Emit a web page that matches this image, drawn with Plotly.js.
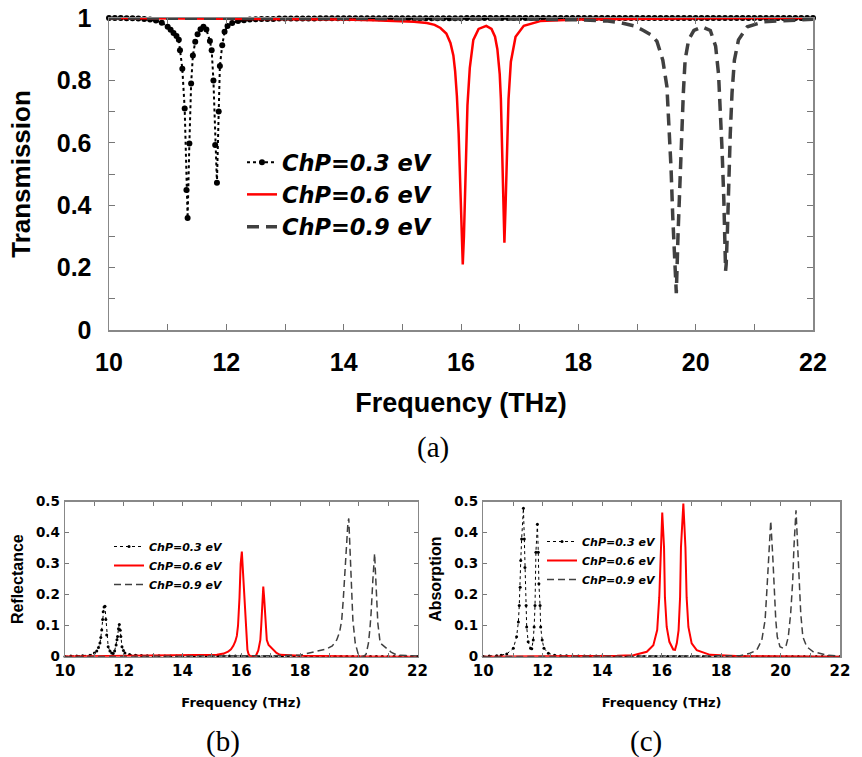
<!DOCTYPE html>
<html>
<head>
<meta charset="utf-8">
<script src="https://cdn.plot.ly/plotly-3.0.1.min.js"></script>
<style>html,body{margin:0;padding:0;background:#fff;}#chart{width:862px;height:757px;}</style>
</head>
<body>
<div id="chart"></div>
<script>
// ---------- Legend labels ----------
const seriesNames = ['ChP=0.3 eV', 'ChP=0.6 eV', 'ChP=0.9 eV'];
const panelLabels = ['(a)', '(b)', '(c)'];

// ---------- (a) Transmission ----------
const freq03T_head = [10,10.1,10.2,10.3,10.4,10.5,10.6,10.7,10.8,10.9,11,11.05,11.1,11.15,11.19,11.21,11.25,11.29,11.32,11.34,11.37,11.4,11.43,11.47,11.51,11.56,11.61,11.66,11.72,11.75,11.78,11.81,11.84,11.87,11.89,11.93,11.97,12.02,12.1,12.2,12.3,12.4,12.5];
const trans03_head = [1,1,1,0.999,0.999,0.998,0.997,0.995,0.992,0.985,0.972,0.962,0.952,0.942,0.93,0.897,0.837,0.71,0.449,0.359,0.598,0.79,0.88,0.924,0.948,0.964,0.972,0.963,0.926,0.897,0.8,0.593,0.472,0.7,0.846,0.913,0.956,0.974,0.984,0.99,0.993,0.995,0.996];
const freq03T_tail = [12.6,12.7,12.8,12.9,13,13.1,13.2,13.3,13.4,13.5,13.6,13.7,13.8,13.9,14,14.1,14.2,14.3,14.4,14.5,14.6,14.7,14.8,14.9,15,15.1,15.2,15.3,15.4,15.5,15.6,15.7,15.8,15.9,16,16.1,16.2,16.3,16.4,16.5,16.6,16.7,16.8,16.9,17,17.1,17.2,17.3,17.4,17.5,17.6,17.7,17.8,17.9,18,18.1,18.2,18.3,18.4,18.5,18.6,18.7,18.8,18.9,19,19.1,19.2,19.3,19.4,19.5,19.6,19.7,19.8,19.9,20,20.1,20.2,20.3,20.4,20.5,20.6,20.7,20.8,20.9,21,21.1,21.2,21.3,21.4,21.5,21.6,21.7,21.8,21.9,22];
const trans03_tail = [0.997,0.997,0.997,0.998,0.998,0.998,0.998,0.998,0.998,0.998,0.999,0.999,0.999,0.999,0.999,0.999,0.999,0.999,0.999,0.999,0.999,0.999,0.999,0.999,0.999,0.999,0.999,0.999,0.999,0.999,0.999,0.999,0.999,0.999,0.999,1,1,1,1,1,1,1,1,1,1,1,1,1,1,1,1,1,1,1,1,1,1,1,1,1,1,1,1,1,1,1,1,1,1,1,1,1,1,1,1,1,1,1,1,1,1,1,1,1,1,1,1,1,1,1,1,1,1,1,1];

const freq06T = [10,11,12,13,14,14.5,15,15.2,15.42,15.55,15.65,15.75,15.82,15.87,15.9,15.93,15.96,15.98,16,16.02,16.03,16.05,16.07,16.09,16.11,16.15,16.21,16.3,16.43,16.52,16.58,16.62,16.66,16.68,16.7,16.72,16.74,16.76,16.78,16.81,16.85,16.93,17.07,17.35,18,19,20,21,22];
const trans06 = [1,0.999,0.998,0.997,0.995,0.993,0.99,0.988,0.984,0.978,0.968,0.95,0.92,0.88,0.83,0.75,0.63,0.52,0.41,0.26,0.21,0.3,0.42,0.6,0.72,0.84,0.93,0.965,0.975,0.965,0.94,0.9,0.82,0.74,0.6,0.42,0.28,0.4,0.58,0.74,0.86,0.94,0.975,0.99,0.995,0.998,0.999,1,1];

const freq09T = [10,14,17,18.03,18.5,18.72,18.95,19.11,19.25,19.34,19.44,19.51,19.55,19.58,19.61,19.64,19.67,19.7,19.73,19.76,19.79,19.82,19.88,19.97,20.11,20.25,20.34,20.39,20.42,20.45,20.48,20.5,20.51,20.52,20.54,20.56,20.59,20.62,20.66,20.73,20.88,21.16,21.73,22];
const trans09 = [1,0.999,0.997,0.994,0.99,0.985,0.975,0.96,0.945,0.925,0.865,0.78,0.65,0.52,0.36,0.25,0.118,0.31,0.47,0.63,0.76,0.865,0.93,0.96,0.972,0.96,0.91,0.82,0.705,0.577,0.417,0.29,0.19,0.21,0.31,0.47,0.63,0.76,0.865,0.93,0.972,0.988,0.994,0.996];

// ---------- shared low-value tail grid for (b),(c) black series ----------
const freqLowTail = [12.6,12.8,13,13.2,13.4,13.6,13.8,14,14.2,14.4,14.6,14.8,15,15.2,15.4,15.6,15.8,16,16.2,16.4,16.6,16.8,17,17.2,17.4,17.6,17.8,18,18.2,18.4,18.6,18.8,19,19.2,19.4,19.6,19.8,20,20.2,20.4,20.6,20.8,21,21.2,21.4,21.6,21.8,22];

// ---------- (b) Reflectance ----------
const freq03R_head = [10,10.2,10.4,10.6,10.85,11,11.08,11.14,11.19,11.22,11.25,11.28,11.3,11.33,11.36,11.39,11.42,11.47,11.53,11.59,11.64,11.69,11.74,11.77,11.79,11.82,11.85,11.88,11.9,11.94,11.99,12.04,12.2,12.4];
const refl03_head = [0.001,0.002,0.002,0.003,0.005,0.012,0.018,0.03,0.044,0.062,0.086,0.12,0.145,0.16,0.163,0.12,0.07,0.032,0.018,0.012,0.01,0.018,0.038,0.055,0.065,0.09,0.104,0.085,0.065,0.032,0.02,0.012,0.007,0.005];
const refl03_tail = [0.004,0.003,0.003,0.003,0.002,0.002,0.002,0.002,0.002,0.002,0.002,0.002,0.002,0.002,0.002,0.002,0.002,0.002,0.001,0.001,0.001,0.001,0.001,0.001,0.001,0.001,0.001,0.001,0.001,0.001,0.001,0.001,0.001,0.001,0.001,0.001,0.001,0.001,0.001,0.001,0.001,0.001,0.001,0.001,0.001,0.001,0.001,0.001];

const freq06R = [10,12,14,15,15.17,15.4,15.55,15.65,15.73,15.8,15.85,15.89,15.92,15.94,15.96,15.98,16.02,16.06,16.1,16.13,16.16,16.19,16.21,16.25,16.3,16.4,16.5,16.58,16.62,16.65,16.68,16.7,16.72,16.75,16.78,16.81,16.84,16.87,16.93,17.04,17.2,17.32,18,20,22];
const refl06 = [0.001,0.002,0.003,0.005,0.006,0.01,0.016,0.024,0.035,0.05,0.067,0.1,0.14,0.19,0.247,0.3,0.339,0.28,0.194,0.14,0.097,0.05,0.022,0.008,0.002,0.001,0.003,0.02,0.04,0.054,0.1,0.14,0.19,0.226,0.19,0.14,0.09,0.054,0.038,0.027,0.012,0.006,0.003,0.001,0];

const freq09R = [10,14,17,18,18.46,18.91,19.1,19.25,19.35,19.42,19.47,19.51,19.55,19.59,19.63,19.66,19.69,19.73,19.8,19.88,19.99,20.08,20.18,20.25,20.33,20.38,20.42,20.48,20.51,20.54,20.57,20.59,20.65,20.73,20.85,20.96,21.1,21.3,22];
const refl09 = [0,0.001,0.003,0.005,0.015,0.025,0.035,0.054,0.08,0.118,0.18,0.247,0.32,0.39,0.43,0.446,0.38,0.247,0.118,0.044,0.005,0.001,0.002,0.008,0.044,0.09,0.14,0.247,0.3,0.333,0.27,0.215,0.108,0.044,0.034,0.027,0.015,0.005,0.002];

// ---------- (c) Absorption ----------
const freq03A_head = [10,10.2,10.45,10.6,10.79,11.01,11.12,11.18,11.21,11.24,11.26,11.29,11.35,11.38,11.4,11.44,11.46,11.51,11.59,11.63,11.68,11.71,11.74,11.77,11.82,11.85,11.87,11.91,11.93,11.98,12.04,12.19,12.4];
const abs03_head = [0.001,0.002,0.003,0.005,0.009,0.027,0.064,0.112,0.165,0.224,0.31,0.38,0.479,0.38,0.288,0.165,0.096,0.048,0.027,0.026,0.054,0.096,0.165,0.337,0.427,0.337,0.235,0.165,0.096,0.054,0.027,0.011,0.005];
const abs03_tail = [0.003,0.003,0.002,0.002,0.002,0.002,0.002,0.002,0.001,0.001,0.001,0.001,0.001,0.001,0.001,0.001,0.001,0.001,0.001,0.001,0.001,0.001,0.001,0.001,0.001,0.001,0.001,0.001,0.001,0.001,0.001,0.001,0.001,0.001,0.001,0.001,0.001,0.001,0.001,0.001,0.001,0.001,0.001,0.001,0.001,0.001,0.001,0.001];

const freq06A = [10,13,14.5,15.05,15.5,15.72,15.85,15.92,15.97,16.02,16.08,16.11,16.17,16.26,16.39,16.45,16.51,16.57,16.62,16.65,16.73,16.8,16.84,16.9,17.01,17.18,17.63,18.5,22];
const abs06 = [0,0.001,0.003,0.005,0.016,0.037,0.086,0.192,0.353,0.465,0.353,0.192,0.096,0.048,0.023,0.022,0.043,0.086,0.192,0.353,0.494,0.353,0.192,0.096,0.043,0.021,0.006,0.002,0];

const freq09A = [10,16,18,18.64,18.97,19.2,19.37,19.48,19.54,19.59,19.67,19.74,19.78,19.84,19.89,19.98,20.09,20.19,20.26,20.34,20.41,20.45,20.52,20.58,20.62,20.68,20.75,20.88,21.1,21.55,22];
const abs09 = [0,0.001,0.002,0.003,0.011,0.021,0.054,0.118,0.214,0.32,0.438,0.32,0.214,0.118,0.064,0.032,0.027,0.037,0.064,0.139,0.246,0.353,0.472,0.353,0.246,0.139,0.064,0.032,0.016,0.005,0.002];

// ---------- build traces ----------
const W = 862, H = 757;
const RED = '#ff0000', GRAY = '#404040';

const traces = [
  {x:freq03T_head.concat(freq03T_tail), y:trans03_head.concat(trans03_tail), type:'scatter', mode:'lines+markers', name:seriesNames[0],
    xaxis:'x', yaxis:'y', legend:'legend', line:{color:'#000', width:2, dash:'dot'}, marker:{color:'#000', size:6}, cliponaxis:false},
  {x:freq06T, y:trans06, type:'scatter', mode:'lines', name:seriesNames[1], xaxis:'x', yaxis:'y', legend:'legend',
    line:{color:RED, width:2.5}},
  {x:freq09T, y:trans09, type:'scatter', mode:'lines', name:seriesNames[2], xaxis:'x', yaxis:'y', legend:'legend',
    line:{color:GRAY, width:3.5, dash:'12px,7px'}},

  {x:freq03R_head.concat(freqLowTail), y:refl03_head.concat(refl03_tail), type:'scatter', mode:'lines+markers', name:seriesNames[0],
    xaxis:'x2', yaxis:'y2', legend:'legend2', line:{color:'#000', width:1, dash:'dot'}, marker:{color:'#000', size:3}, cliponaxis:false},
  {x:freq06R, y:refl06, type:'scatter', mode:'lines', name:seriesNames[1], xaxis:'x2', yaxis:'y2', legend:'legend2',
    line:{color:RED, width:2}},
  {x:freq09R, y:refl09, type:'scatter', mode:'lines', name:seriesNames[2], xaxis:'x2', yaxis:'y2', legend:'legend2',
    line:{color:GRAY, width:1.5, dash:'7px,4px'}},

  {x:freq03A_head.concat(freqLowTail), y:abs03_head.concat(abs03_tail), type:'scatter', mode:'lines+markers', name:seriesNames[0],
    xaxis:'x3', yaxis:'y3', legend:'legend3', line:{color:'#000', width:1, dash:'dot'}, marker:{color:'#000', size:3}, cliponaxis:false},
  {x:freq06A, y:abs06, type:'scatter', mode:'lines', name:seriesNames[1], xaxis:'x3', yaxis:'y3', legend:'legend3',
    line:{color:RED, width:2}},
  {x:freq09A, y:abs09, type:'scatter', mode:'lines', name:seriesNames[2], xaxis:'x3', yaxis:'y3', legend:'legend3',
    line:{color:GRAY, width:1.5, dash:'7px,4px'}}
];

// ---------- axes ----------
const SANS = 'Liberation Sans, Arial, sans-serif';
const DJ = 'DejaVu Sans, sans-serif';
function xAxis(domain, anchor, big) {
  return {
    domain, anchor, range:[10,22], tick0:10, dtick:2, ticks:'inside', ticklen: big?6:4, tickwidth:1, tickcolor:'#777',
    minor:{dtick:1, ticks:'inside', ticklen: big?6:4, tickcolor:'#777', tickwidth:1},
    showline:true, linecolor:'#888', linewidth:1.5, mirror:'ticks', showgrid:false, zeroline:false,
    tickfont: big ? {family:SANS, size:25, color:'#000', weight:'bold'} : {family:DJ, size:15, color:'#000', weight:'bold'},
    ticklabelstandoff: big ? 9 : 0,
    title: {text:'Frequency (THz)', font: big ? {family:SANS, size:27, color:'#000', weight:'bold'} : {family:DJ, size:13, color:'#000', weight:'bold'},
      standoff: big ? 18 : 18}
  };
}
function yAxis(domain, anchor, big, title, range, dtick) {
  const ax = {
    domain, anchor, range, dtick, tick0:0, ticks:'inside', ticklen: big?6:4, tickwidth:1, tickcolor:'#777',
    showline:true, linecolor:'#888', linewidth:1.5, mirror:'ticks', showgrid:false, zeroline:false,
    tickfont: big ? {family:SANS, size:25, color:'#000', weight:'bold'} : {family:DJ, size:13.5, color:'#000', weight:'bold'},
    ticklabelstandoff: big ? 11 : 1,
    title: {text:title, font: big ? {family:SANS, size:26, color:'#000', weight:'bold'} : {family:SANS, size:16, color:'#000', weight:'bold'},
      standoff: big ? 18 : 8}
  };
  if (big) ax.minor = {dtick:0.1, ticks:'inside', ticklen:6, tickcolor:'#777', tickwidth:1};
  return ax;
}

const topY = [1-330/H, 1-18/H];
const botY = [1-656.7/H, 1-501.7/H];

const legendFontBig = {family:DJ, size:22.5, color:'#000', weight:'bold', style:'italic'};
const legendFontSmall = {family:DJ, size:11, color:'#000', weight:'bold', style:'italic'};

const layout = {
  width: W, height: H,
  margin:{l:0, r:0, t:0, b:0},
  paper_bgcolor:'#fff', plot_bgcolor:'#fff',
  showlegend:true,
  xaxis: xAxis([109/W, 813/W], 'y', true),
  yaxis: yAxis(topY, 'x', true, 'Transmission', [0,1], 0.2),
  xaxis2: xAxis([65/W, 417.5/W], 'y2', false),
  yaxis2: yAxis(botY, 'x2', false, 'Reflectance', [0,0.5], 0.1),
  xaxis3: xAxis([483.3/W, 840/W], 'y3', false),
  yaxis3: yAxis(botY, 'x3', false, 'Absorption', [0,0.5], 0.1),
  legend: {x:242/W, y:1-141/H, xanchor:'left', yanchor:'top', bgcolor:'rgba(0,0,0,0)', borderwidth:0,
    font:legendFontBig, tracegroupgap:0},
  legend2: {x:109/W, y:1-532/H, xanchor:'left', yanchor:'top', bgcolor:'rgba(0,0,0,0)', borderwidth:0,
    font:legendFontSmall, tracegroupgap:0},
  legend3: {x:542/W, y:1-527/H, xanchor:'left', yanchor:'top', bgcolor:'rgba(0,0,0,0)', borderwidth:0,
    font:legendFontSmall, tracegroupgap:0},
  annotations: [
    {text:panelLabels[0], x:433/W, y:1-447/H, xref:'paper', yref:'paper', showarrow:false, xanchor:'center', yanchor:'middle',
      font:{family:'Liberation Serif, Times New Roman, serif', size:29, color:'#000'}},
    {text:panelLabels[1], x:223/W, y:1-741/H, xref:'paper', yref:'paper', showarrow:false, xanchor:'center', yanchor:'middle',
      font:{family:'Liberation Serif, Times New Roman, serif', size:29, color:'#000'}},
    {text:panelLabels[2], x:646/W, y:1-741/H, xref:'paper', yref:'paper', showarrow:false, xanchor:'center', yanchor:'middle',
      font:{family:'Liberation Serif, Times New Roman, serif', size:29, color:'#000'}}
  ]
};

Plotly.newPlot('chart', traces, layout, {displayModeBar:false, staticPlot:true});
</script>
</body>
</html>
